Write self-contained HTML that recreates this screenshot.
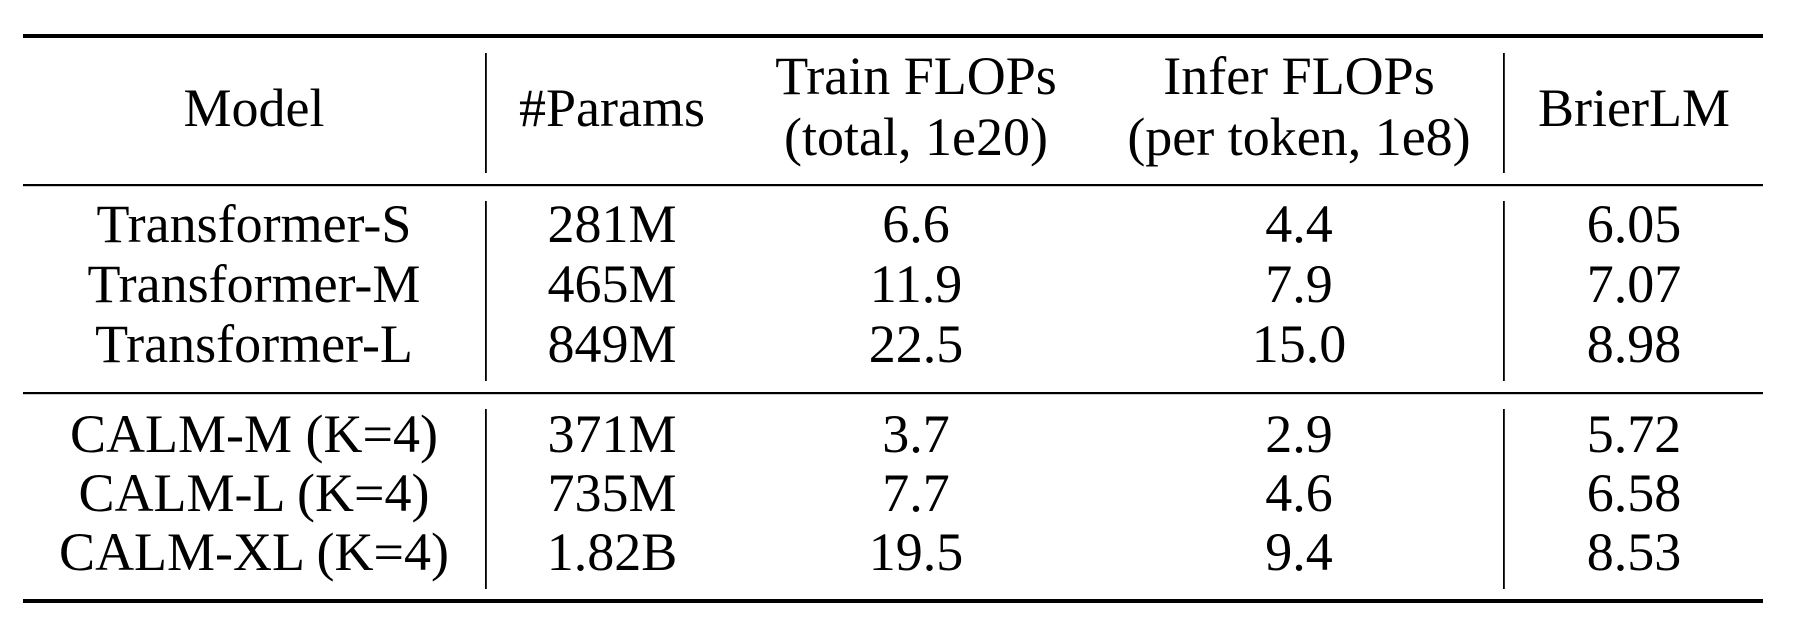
<!DOCTYPE html>
<html><head><meta charset="utf-8"><style>
html,body{margin:0;padding:0;background:#fff;}
svg{display:block;}
text{font-family:"Liberation Serif",serif;font-size:54px;fill:#000;text-anchor:middle;}
</style></head><body>
<svg width="1814" height="638" viewBox="0 0 1814 638">
<rect x="23" y="34" width="1740" height="4" fill="#000"/>
<rect x="23" y="184" width="1740" height="2.2" fill="#000"/>
<rect x="23" y="392" width="1740" height="2.2" fill="#000"/>
<rect x="23" y="599" width="1740" height="4" fill="#000"/>
<g fill="#000">
<rect x="485" y="53" width="1.8" height="120"/>
<rect x="1503" y="53" width="1.8" height="120"/>
<rect x="485" y="201" width="1.8" height="180"/>
<rect x="1503" y="201" width="1.8" height="180"/>
<rect x="485" y="409" width="1.8" height="180"/>
<rect x="1503" y="409" width="1.8" height="180"/>
</g>
<text x="254" y="126">Model</text>
<text x="612" y="126">#Params</text>
<text x="916" y="94">Train FLOPs</text>
<text x="916" y="155">(total, 1e20)</text>
<text x="1299" y="94">Infer FLOPs</text>
<text x="1299" y="155">(per token, 1e8)</text>
<text x="1634" y="126">BrierLM</text>

<text x="254" y="242">Transformer-S</text>
<text x="254" y="302">Transformer-M</text>
<text x="254" y="362">Transformer-L</text>
<text x="612" y="242">281M</text>
<text x="612" y="302">465M</text>
<text x="612" y="362">849M</text>
<text x="916" y="242">6.6</text>
<text x="916" y="302">11.9</text>
<text x="916" y="362">22.5</text>
<text x="1299" y="242">4.4</text>
<text x="1299" y="302">7.9</text>
<text x="1299" y="362">15.0</text>
<text x="1634" y="242">6.05</text>
<text x="1634" y="302">7.07</text>
<text x="1634" y="362">8.98</text>

<text x="254" y="452">CALM-M (K=4)</text>
<text x="254" y="511">CALM-L (K=4)</text>
<text x="254" y="570">CALM-XL (K=4)</text>
<text x="612" y="452">371M</text>
<text x="612" y="511">735M</text>
<text x="612" y="570">1.82B</text>
<text x="916" y="452">3.7</text>
<text x="916" y="511">7.7</text>
<text x="916" y="570">19.5</text>
<text x="1299" y="452">2.9</text>
<text x="1299" y="511">4.6</text>
<text x="1299" y="570">9.4</text>
<text x="1634" y="452">5.72</text>
<text x="1634" y="511">6.58</text>
<text x="1634" y="570">8.53</text>
</svg>
</body></html>
